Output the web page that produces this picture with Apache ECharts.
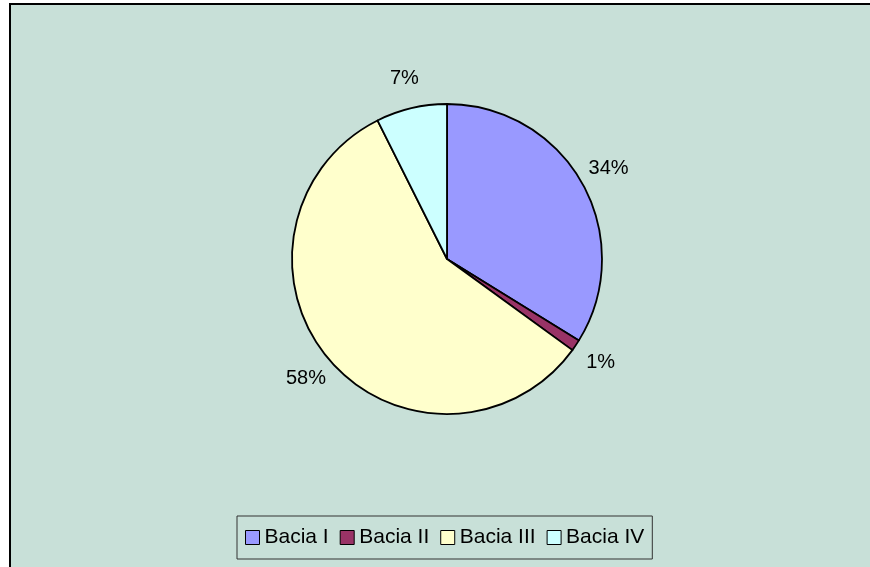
<!DOCTYPE html>
<html>
<head>
<meta charset="utf-8">
<script src="https://cdn.jsdelivr.net/npm/echarts@6/dist/echarts.min.js"></script>
<style>
  html, body { margin: 0; padding: 0; background: #ffffff; width: 870px; height: 567px; overflow: hidden; }
  #frame {
    position: absolute; left: 9px; top: 3px;
    width: 880px; height: 580px;
    box-sizing: border-box;
    border: 2px solid #000;
    background: #C8E0D8;
  }
  #chart { width: 876px; height: 576px; }
</style>
</head>
<body>
<div id="frame"><div id="chart"></div></div>
<script>
// Share of each basin (percent)
const categories = ['Bacia I', 'Bacia II', 'Bacia III', 'Bacia IV'];
const shares = [33.8, 1.2, 57.6, 7.4];
const colors = ['#9999FF', '#993366', '#FFFFCC', '#CCFFFF'];

const chart = echarts.init(document.getElementById('chart'), null, { renderer: 'canvas' });

const fontFamily = '"Liberation Sans", Arial, sans-serif';

chart.setOption({
  animation: false,
  backgroundColor: 'transparent',
  legend: {
    left: 226,
    top: 511,
    orient: 'horizontal',
    data: categories,
    icon: 'rect',
    itemWidth: 14,
    itemHeight: 14,
    itemGap: 11,
    padding: [11, 8, 11, 8],
    borderColor: '#333',
    borderWidth: 1,
    itemStyle: { borderColor: '#000', borderWidth: 1 },
    textStyle: { fontFamily: fontFamily, fontSize: 21, color: '#000' }
  },
  series: [{
    type: 'pie',
    center: [436, 254],
    radius: 155,
    startAngle: 90,
    clockwise: true,
    avoidLabelOverlap: false,
    data: categories.map((name, i) => ({
      name: name,
      value: shares[i],
      itemStyle: { color: colors[i] }
    })),
    itemStyle: { borderColor: '#000', borderWidth: 1.8 },
    emphasis: { disabled: true },
    label: {
      show: true,
      position: 'outside',
      formatter: '{d}%',
      fontFamily: fontFamily,
      fontSize: 20,
      color: '#000'
    },
    percentPrecision: 0,
    labelLine: {
      show: true,
      length: 30,
      length2: 0,
      lineStyle: { opacity: 0 }
    },
    labelLayout: function (params) {
      // centre each label on the bend point of its (hidden) guide line
      const pts = params.labelLinePoints;
      if (!pts) return {};
      return {
        x: pts[1][0],
        y: pts[1][1],
        align: 'center',
        verticalAlign: 'middle'
      };
    }
  }]
});
</script>
</body>
</html>
